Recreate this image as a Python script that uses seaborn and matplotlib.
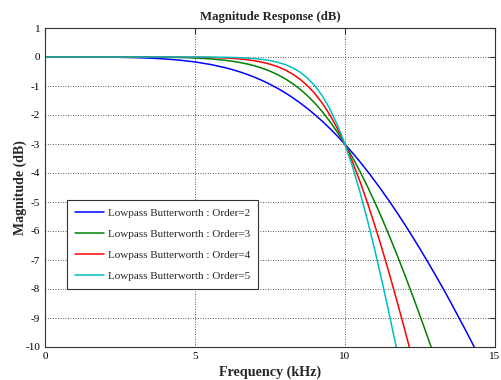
import numpy as np
import pandas as pd
import matplotlib
matplotlib.use("Agg")
import matplotlib.pyplot as plt
import seaborn as sns

# === Data (frequency in kHz, magnitude in dB) ===
freq_khz = [0, 0.5, 1, 1.5, 2, 2.5, 3, 3.5, 4, 4.5, 5, 5.5, 6,
            6.25, 6.5, 6.75, 7, 7.25, 7.5, 7.75, 8, 8.25, 8.5, 8.75, 9,
            9.25, 9.5, 9.75, 10, 10.25, 10.5, 10.75, 11, 11.25, 11.5, 11.75,
            12, 12.25, 12.5, 12.75, 13, 13.25, 13.5, 14, 14.5, 15]

mag_order2 = [0, 0, -0.0002, -0.0012, -0.004, -0.0098, -0.0206, -0.0387, -0.0672,
              -0.110, -0.170, -0.254, -0.367,
              -0.436, -0.515, -0.604, -0.704, -0.816, -0.941, -1.079, -1.231,
              -1.398, -1.581, -1.779, -1.992, -2.222, -2.469, -2.731, -3.010,
              -3.305, -3.616, -3.942, -4.283, -4.638, -5.008, -5.391, -5.787,
              -6.196, -6.617, -7.050, -7.494, -7.948, -8.414,
              -9.383, -10.384, -11.424]

mag_order3 = [0, 0, 0, 0, -0.0001, -0.0005, -0.0014, -0.0037, -0.0085,
              -0.0177, -0.0346, -0.0639, -0.112,
              -0.147, -0.190, -0.243, -0.309, -0.390, -0.488, -0.606, -0.747,
              -0.914, -1.109, -1.336, -1.596, -1.893, -2.227, -2.599, -3.010,
              -3.460, -3.946, -4.468, -5.023, -5.610, -6.225, -6.866, -7.530,
              -8.216, -8.920, -9.642, -10.380, -11.132, -11.898,
              -13.48, -15.09, -16.74]

mag_order4 = [0, 0, 0, 0, 0, 0, -0.0001, -0.0003, -0.0011,
              -0.0028, -0.0069, -0.0158, -0.0336,
              -0.0482, -0.0682, -0.0956, -0.133, -0.182, -0.247, -0.332, -0.443,
              -0.585, -0.765, -0.990, -1.267, -1.603, -2.003, -2.472, -3.010,
              -3.619, -4.294, -5.032, -5.827, -6.671, -7.559, -8.484, -9.439,
              -10.421, -11.424, -12.445, -13.48, -14.53, -15.60,
              -17.78, -19.98, -22.22]

mag_order5 = [0, 0, 0, 0, 0, 0, 0, 0, -0.0001,
              -0.0005, -0.0014, -0.0039, -0.0100,
              -0.0157, -0.0243, -0.0372, -0.0560, -0.0836, -0.123, -0.180, -0.259,
              -0.370, -0.522, -0.727, -0.999, -1.351, -1.798, -2.349, -3.010,
              -3.782, -4.660, -5.632, -6.687, -7.810, -8.988, -10.210, -11.465,
              -12.75, -14.05, -15.37, -16.70, -18.04, -19.40,
              -22.16, -24.93, -27.76]

orders = [2, 3, 4, 5]
series = [mag_order2, mag_order3, mag_order4, mag_order5]
labels = [f"Lowpass Butterworth : Order={n}" for n in orders]
colors = ["#0000FF", "#008000", "#FF0000", "#00BFBF"]

x_ticks = [0, 5, 10, 15]
y_ticks = list(range(1, -11, -1))

# === Long-form table for seaborn ===
df = pd.concat(
    [pd.DataFrame({"freq": freq_khz, "mag": vals, "filter": lab})
     for vals, lab in zip(series, labels)],
    ignore_index=True,
)

sns.set_style("white")
plt.rcParams["font.family"] = ["Liberation Serif", "DejaVu Serif"]
plt.rcParams["axes.unicode_minus"] = False

fig = plt.figure(figsize=(5.01, 3.80), dpi=100)
ax = fig.add_axes([45 / 501, 1 - 347 / 380, 450 / 501, 319 / 380])

sns.lineplot(
    data=df, x="freq", y="mag", hue="filter",
    palette=dict(zip(labels, colors)), hue_order=labels,
    linewidth=1.1, ax=ax, sort=False,
)

ax.set_xlim(0, 15)
ax.set_ylim(-10, 1)
ax.set_xticks(x_ticks)
ax.set_yticks(y_ticks)
ax.tick_params(direction="in", length=4, width=0.8, labelsize=8,
               top=True, right=True, colors="#333333", labelcolor="black")
ax.grid(True, color="#222222", linestyle=(0, (1, 2)), linewidth=0.6)

for sp in ax.spines.values():
    sp.set_color("#333333")
    sp.set_linewidth(0.8)

ax.set_title("Magnitude Response (dB)", fontsize=9.2, fontweight="bold", pad=6)
ax.set_xlabel("Frequency (kHz)", fontsize=10.2, fontweight="bold", labelpad=3)
ax.set_ylabel("Magnitude (dB)", fontsize=10, fontweight="bold")
ax.yaxis.set_label_coords(-0.04, 0.5)

leg = ax.legend(
    loc="lower left", bbox_to_anchor=(0.049, 0.182), borderaxespad=0,
    fontsize=8, frameon=True, fancybox=False, framealpha=1,
    edgecolor="#333333", handlelength=2.6, handletextpad=0.3,
    labelspacing=1.0, borderpad=0.75,
)
leg.get_frame().set_linewidth(0.8)

fig.savefig("out.png", dpi=100, facecolor="white")
